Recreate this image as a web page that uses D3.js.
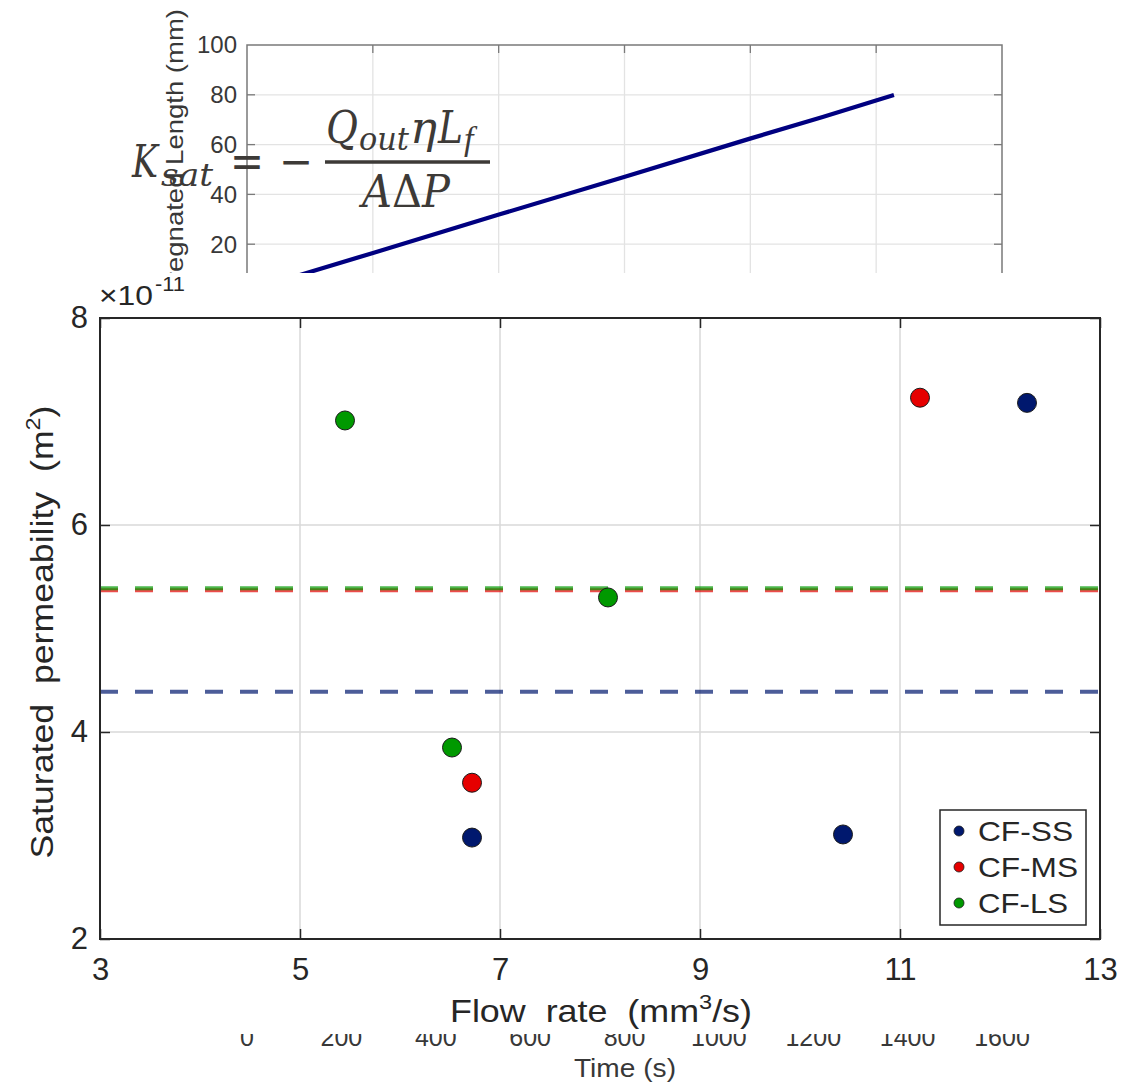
<!DOCTYPE html>
<html>
<head>
<meta charset="utf-8">
<script src="https://cdn.jsdelivr.net/npm/d3@7"></script>
<style>
  html, body { margin: 0; padding: 0; background: #fff; }
  svg { display: block; }
</style>
</head>
<body>
<div id="chart"></div>
<script>
// ---------- DATA ----------
// Main chart: saturated permeability (x1e-11 m^2) vs flow rate (mm^3/s)
const seriesNames = ["CF-SS", "CF-MS", "CF-LS"];
const flowSS = [6.72, 10.43, 12.27];
const permSS = [2.98, 3.01, 7.18];
const flowMS = [6.72, 11.20];
const permMS = [3.51, 7.23];
const flowLS = [5.45, 6.52, 8.08];
const permLS = [7.01, 3.85, 5.30];
const meanPerm = [4.39, 5.37, 5.39];   // dashed lines: SS, MS, LS
const xTicks = [3, 5, 7, 9, 11, 13];
const yTicks = [2, 4, 6, 8];

// Background (partly hidden) chart: impregnated length vs time
const timeS = [0, 267, 534, 799, 1066, 1220, 1333, 1371];
const lengthMm = [1.2, 16.5, 31.9, 47.0, 62.4, 71.1, 77.7, 79.9];
const timeTicks = [0, 200, 400, 600, 800, 1000, 1200, 1400, 1600];
const lengthTicks = [20, 40, 60, 80, 100];
const topGridTicks = [1, 2, 3, 4, 5];

// ---------- SETUP ----------
const W = 1125, H = 1084;
const svg = d3.select("#chart").append("svg").attr("width", W).attr("height", H);
const sans = "Liberation Sans, Arial, Helvetica, sans-serif";

// ---------- BACKGROUND CHART ----------
const tX = d3.scaleLinear().domain([0, 1600]).range([247, 1002]);
const gX = d3.scaleLinear().domain([0, 6]).range([247, 1002]);
const lY = d3.scaleLinear().domain([0, 100]).range([294, 45]);
const topClipBottom = 273;
const coverBottom = 1034;

const defs = svg.append("defs");
defs.append("clipPath").attr("id", "topclip")
  .append("rect").attr("x", 247).attr("y", 45).attr("width", 755).attr("height", topClipBottom - 45);
defs.append("clipPath").attr("id", "timeclip")
  .append("rect").attr("x", 0).attr("y", coverBottom).attr("width", W).attr("height", H - coverBottom);

const bg = svg.append("g");

// grid
bg.selectAll("line.hg").data(lengthTicks.filter(d => d < 100)).join("line")
  .attr("x1", 247).attr("x2", 1002).attr("y1", d => lY(d)).attr("y2", d => lY(d))
  .attr("stroke", "#e3e3e3").attr("stroke-width", 1.3);
bg.selectAll("line.vg").data(topGridTicks).join("line")
  .attr("x1", d => gX(d)).attr("x2", d => gX(d)).attr("y1", 45).attr("y2", topClipBottom)
  .attr("stroke", "#e3e3e3").attr("stroke-width", 1.3);
// ticks
bg.selectAll("line.tl").data(lengthTicks.filter(d => d < 100)).join("line")
  .attr("x1", 247).attr("x2", 255).attr("y1", d => lY(d)).attr("y2", d => lY(d))
  .attr("stroke", "#7a7a7a").attr("stroke-width", 1.3);
bg.selectAll("line.tr").data(lengthTicks.filter(d => d < 100)).join("line")
  .attr("x1", 994).attr("x2", 1002).attr("y1", d => lY(d)).attr("y2", d => lY(d))
  .attr("stroke", "#7a7a7a").attr("stroke-width", 1.3);
bg.selectAll("line.tt").data(topGridTicks).join("line")
  .attr("x1", d => gX(d)).attr("x2", d => gX(d)).attr("y1", 45).attr("y2", 53)
  .attr("stroke", "#7a7a7a").attr("stroke-width", 1.3);
// frame (top, left, right)
bg.append("path")
  .attr("d", `M247,${topClipBottom}V45H1002V${topClipBottom}`)
  .attr("fill", "none").attr("stroke", "#7a7a7a").attr("stroke-width", 1.5);
// tick labels
bg.selectAll("text.yl").data(lengthTicks).join("text")
  .attr("x", 237).attr("y", d => lY(d)).attr("dy", "0.35em")
  .attr("text-anchor", "end").attr("font-family", sans).attr("font-size", 24)
  .attr("fill", "#383838").text(d => d);
// y label (rotated)
bg.append("text")
  .attr("transform", "translate(183,168) rotate(-90)")
  .attr("text-anchor", "middle").attr("font-family", sans).attr("font-size", 24)
  .attr("fill", "#383838").attr("textLength", 318).attr("lengthAdjust", "spacingAndGlyphs")
  .text("Impregnated Length (mm)");
// line
const lineGen = d3.line().x((d, i) => tX(timeS[i])).y(d => lY(d));
bg.append("path").datum(lengthMm)
  .attr("clip-path", "url(#topclip)")
  .attr("d", lineGen).attr("fill", "none")
  .attr("stroke", "#000080").attr("stroke-width", 4.2).attr("stroke-linejoin", "round");
// time tick labels (partly hidden behind the main figure) and title
const tl = bg.append("g").attr("clip-path", "url(#timeclip)");
tl.selectAll("text").data(timeTicks).join("text")
  .attr("x", d => tX(d)).attr("y", 1046)
  .attr("text-anchor", "middle").attr("font-family", sans).attr("font-size", 25)
  .attr("fill", "#383838").text(d => d);
bg.append("text").attr("x", 625).attr("y", 1077).attr("text-anchor", "middle")
  .attr("font-family", sans).attr("font-size", 25).attr("fill", "#383838")
  .attr("textLength", 102).attr("lengthAdjust", "spacingAndGlyphs").text("Time (s)");

// ---------- FORMULA ----------
const fcol = "#3d3a37";
const f = svg.append("g").attr("fill", fcol).attr("font-family", "DejaVu Serif, Liberation Serif, serif");
function ftext(x, y, size, len, str, italic = true, family = null) {
  const t = f.append("text").attr("x", x).attr("y", y).attr("font-size", size)
    .attr("font-style", italic ? "italic" : "normal").text(str);
  if (len) t.attr("textLength", len).attr("lengthAdjust", "spacingAndGlyphs");
  if (family) t.attr("font-family", family);
  return t;
}
ftext(132, 177, 44, 26, "K");
ftext(161, 186, 32, 52, "sat");
ftext(230, 177, 46, 34, "=", false);
ftext(279, 177, 46, 34, "\u2212", false);
f.append("line").attr("x1", 325).attr("x2", 490).attr("y1", 162).attr("y2", 162)
  .attr("stroke", fcol).attr("stroke-width", 3.5);
ftext(326, 143, 44, 32, "Q");
ftext(359, 150, 32, 50, "out");
ftext(410, 143, 44, 27, "\u03B7");
ftext(438, 143, 44, 25, "L");
ftext(464, 150, 34, null, "f", true, "Liberation Serif, serif");
const den = f.append("text").attr("x", 362).attr("y", 207).attr("font-size", 44)
  .attr("textLength", 88).attr("lengthAdjust", "spacingAndGlyphs");
den.append("tspan").attr("font-style", "italic").text("A");
den.append("tspan").attr("font-style", "normal").text("\u0394");
den.append("tspan").attr("font-style", "italic").text("P");

// ---------- MAIN CHART ----------
svg.append("rect").attr("x", 0).attr("y", topClipBottom).attr("width", W).attr("height", coverBottom - topClipBottom)
  .attr("fill", "#fff");

const x = d3.scaleLinear().domain([3, 13]).range([100, 1100]);
const y = d3.scaleLinear().domain([2, 8]).range([939, 318]);
const g = svg.append("g");
const ink = "#262626";

// grid
g.selectAll("line.gx").data(xTicks.slice(1, -1)).join("line")
  .attr("x1", d => x(d)).attr("x2", d => x(d)).attr("y1", 318).attr("y2", 939)
  .attr("stroke", "#d8d8d8").attr("stroke-width", 1.5);
g.selectAll("line.gy").data(yTicks.slice(1, -1)).join("line")
  .attr("x1", 100).attr("x2", 1100).attr("y1", d => y(d)).attr("y2", d => y(d))
  .attr("stroke", "#d8d8d8").attr("stroke-width", 1.5);

// axes
const fmt = d3.format("d");
const axB = g.append("g").attr("transform", "translate(0,939)")
  .call(d3.axisBottom(x).tickValues(xTicks).tickFormat(fmt).tickSizeInner(-10).tickSizeOuter(0).tickPadding(19));
const axL = g.append("g").attr("transform", "translate(100,0)")
  .call(d3.axisLeft(y).tickValues(yTicks).tickFormat(fmt).tickSizeInner(-10).tickSizeOuter(0).tickPadding(12));
const axT = g.append("g").attr("transform", "translate(0,318)")
  .call(d3.axisTop(x).tickValues(xTicks).tickSizeInner(-10).tickSizeOuter(0).tickFormat(""));
const axR = g.append("g").attr("transform", "translate(1100,0)")
  .call(d3.axisRight(y).tickValues(yTicks).tickSizeInner(-10).tickSizeOuter(0).tickFormat(""));
[axB, axL, axT, axR].forEach(a => {
  a.select(".domain").remove();
  a.selectAll("line").attr("stroke", ink).attr("stroke-width", 1.5);
  a.selectAll("text").attr("font-family", sans).attr("font-size", 31).attr("fill", ink);
});

// mean dashed lines
const dashColors = ["#00186e", "#e60000", "#009900"];
const dashOrder = [0, 1, 2];
g.selectAll("line.mean").data(dashOrder).join("line")
  .attr("x1", 100).attr("x2", 1100)
  .attr("y1", i => y(meanPerm[i])).attr("y2", i => y(meanPerm[i]))
  .attr("stroke", i => dashColors[i]).attr("stroke-opacity", 0.7)
  .attr("stroke-width", 4).attr("stroke-dasharray", "18,17");

// points
const series = [
  { name: seriesNames[0], xs: flowSS, ys: permSS, color: dashColors[0] },
  { name: seriesNames[1], xs: flowMS, ys: permMS, color: dashColors[1] },
  { name: seriesNames[2], xs: flowLS, ys: permLS, color: dashColors[2] }
];
series.forEach(s => {
  g.selectAll(null).data(s.xs).join("circle")
    .attr("cx", d => x(d)).attr("cy", (d, i) => y(s.ys[i])).attr("r", 9.5)
    .attr("fill", s.color).attr("stroke", "#1a1a1a").attr("stroke-width", 1);
});

// frame
g.append("rect").attr("x", 100).attr("y", 318).attr("width", 1000).attr("height", 621)
  .attr("fill", "none").attr("stroke", ink).attr("stroke-width", 2);

// exponent label
g.append("text").attr("x", 99).attr("y", 305).attr("font-family", sans).attr("font-size", 28)
  .attr("fill", ink).attr("textLength", 54).attr("lengthAdjust", "spacingAndGlyphs").text("\u00D710");
g.append("text").attr("x", 155).attr("y", 291).attr("font-family", sans).attr("font-size", 20)
  .attr("fill", ink).attr("textLength", 30).attr("lengthAdjust", "spacingAndGlyphs").text("-11");

// axis labels
const xl = g.append("text").attr("x", 601).attr("y", 1022).attr("text-anchor", "middle")
  .attr("font-family", sans).attr("font-size", 32).attr("fill", ink)
  .attr("textLength", 302).attr("lengthAdjust", "spacingAndGlyphs");
xl.append("tspan").text("Flow\u00A0\u00A0rate\u00A0\u00A0(mm");
xl.append("tspan").attr("dy", -13).attr("font-size", 21).text("3");
xl.append("tspan").attr("dy", 13).text("/s)");

const yl = g.append("text").attr("transform", "translate(53,632) rotate(-90)")
  .attr("text-anchor", "middle").attr("font-family", sans).attr("font-size", 32).attr("fill", ink)
  .attr("textLength", 453).attr("lengthAdjust", "spacingAndGlyphs");
yl.append("tspan").text("Saturated\u00A0\u00A0permeability\u00A0\u00A0(m");
yl.append("tspan").attr("dy", -13).attr("font-size", 21).text("2");
yl.append("tspan").attr("dy", 13).text(")");

// legend
const lg = g.append("g");
lg.append("rect").attr("x", 940).attr("y", 810).attr("width", 146).attr("height", 115)
  .attr("fill", "#fff").attr("stroke", ink).attr("stroke-width", 1.5);
const legLens = [95, 100, 90];
series.forEach((s, i) => {
  const cy = 831 + i * 36;
  lg.append("circle").attr("cx", 959).attr("cy", cy).attr("r", 5)
    .attr("fill", s.color).attr("stroke", "#1a1a1a").attr("stroke-width", 0.8);
  lg.append("text").attr("x", 978).attr("y", cy + 10).attr("font-family", sans)
    .attr("font-size", 28).attr("fill", ink)
    .attr("textLength", legLens[i]).attr("lengthAdjust", "spacingAndGlyphs").text(s.name);
});
</script>
</body>
</html>
